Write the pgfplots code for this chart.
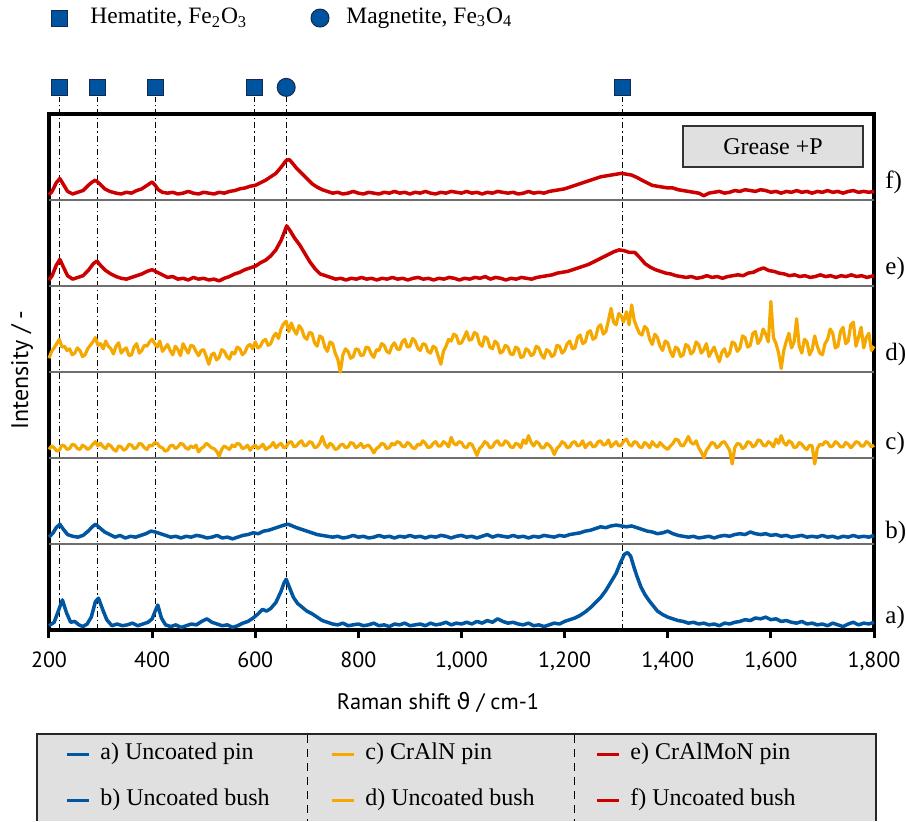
\documentclass[border=0pt]{standalone}
\usepackage{fontspec}
\setmainfont{Liberation Serif}
\setsansfont{PT Sans}
\newfontfamily\dejavu{DejaVu Sans}
\usepackage{pgfplots}
\pgfplotsset{compat=1.18}
\usepackage{pgfplotstable}

\definecolor{cblue}{RGB}{0,86,160}
\definecolor{corange}{RGB}{244,168,0}
\definecolor{cred}{RGB}{204,0,0}
\definecolor{mblue}{RGB}{0,84,159}
\definecolor{medge}{RGB}{20,40,80}
\definecolor{boxgray}{RGB}{224,224,224}
\definecolor{sepgray}{RGB}{110,110,110}

% spectra, intensity relative to the bottom of each strip
\pgfplotstableread[row sep=\\]{x y\\
200 0.05\\210 0.09\\218 0.22\\226 0.35\\234 0.20\\242 0.09\\250 0.10\\258 0.06\\266 0.04\\274 0.07\\
282 0.15\\290 0.33\\296 0.37\\304 0.24\\312 0.12\\322 0.05\\332 0.07\\342 0.05\\352 0.06\\362 0.08\\
372 0.05\\382 0.07\\392 0.09\\400 0.13\\406 0.22\\411 0.29\\418 0.14\\426 0.06\\436 0.04\\446 0.06\\
456 0.03\\466 0.05\\476 0.07\\486 0.06\\496 0.10\\506 0.13\\516 0.09\\526 0.07\\536 0.05\\546 0.06\\
556 0.03\\566 0.05\\576 0.08\\586 0.10\\596 0.14\\606 0.19\\614 0.24\\622 0.22\\630 0.25\\640 0.32\\
650 0.45\\656 0.55\\660 0.59\\666 0.50\\674 0.38\\682 0.31\\690 0.27\\700 0.22\\710 0.19\\720 0.15\\
730 0.11\\740 0.09\\750 0.07\\760 0.06\\770 0.08\\780 0.05\\790 0.06\\800 0.07\\810 0.05\\820 0.06\\
830 0.08\\840 0.05\\850 0.06\\860 0.04\\870 0.07\\880 0.06\\890 0.08\\900 0.05\\910 0.06\\920 0.07\\
930 0.05\\940 0.08\\950 0.06\\960 0.07\\970 0.09\\980 0.06\\990 0.08\\1000 0.07\\1010 0.09\\1020 0.07\\
1030 0.10\\1040 0.08\\1050 0.11\\1060 0.09\\1070 0.13\\1080 0.10\\1090 0.08\\1100 0.09\\1110 0.07\\1120 0.06\\
1130 0.08\\1140 0.05\\1150 0.06\\1160 0.04\\1170 0.06\\1180 0.08\\1190 0.07\\1200 0.10\\1210 0.12\\1220 0.14\\
1230 0.17\\1240 0.21\\1250 0.26\\1260 0.32\\1270 0.38\\1280 0.46\\1290 0.56\\1300 0.66\\1308 0.78\\1316 0.88\\
1322 0.90\\1328 0.86\\1334 0.74\\1340 0.63\\1348 0.50\\1356 0.41\\1364 0.34\\1372 0.28\\1380 0.22\\1390 0.18\\
1400 0.15\\1410 0.13\\1420 0.11\\1430 0.10\\1440 0.08\\1450 0.09\\1460 0.07\\1470 0.08\\1480 0.06\\1490 0.07\\
1500 0.05\\1510 0.08\\1520 0.07\\1530 0.09\\1540 0.10\\1550 0.12\\1560 0.11\\1570 0.14\\1580 0.13\\1590 0.15\\
1600 0.12\\1610 0.13\\1620 0.10\\1630 0.11\\1640 0.09\\1650 0.08\\1660 0.10\\1670 0.07\\1680 0.08\\1690 0.06\\
1700 0.07\\1710 0.05\\1720 0.08\\1730 0.06\\1740 0.04\\1750 0.07\\1760 0.09\\1770 0.06\\1780 0.08\\1790 0.07\\
1800 0.09\\
}\tablea

\pgfplotstableread[row sep=\\]{x y\\
200 0.08\\208 0.13\\214 0.19\\221 0.23\\228 0.17\\236 0.11\\246 0.09\\256 0.08\\266 0.10\\276 0.15\\
284 0.20\\290 0.23\\298 0.19\\308 0.14\\318 0.11\\328 0.08\\338 0.10\\348 0.07\\358 0.09\\368 0.08\\
378 0.10\\388 0.12\\398 0.15\\406 0.14\\416 0.12\\426 0.10\\436 0.08\\446 0.09\\456 0.07\\466 0.09\\
476 0.08\\486 0.10\\496 0.09\\506 0.07\\516 0.08\\526 0.10\\536 0.07\\546 0.08\\556 0.06\\566 0.08\\
576 0.10\\586 0.11\\596 0.13\\606 0.12\\616 0.15\\626 0.16\\636 0.18\\646 0.20\\656 0.22\\664 0.23\\
672 0.21\\680 0.19\\690 0.17\\700 0.15\\710 0.13\\720 0.11\\730 0.10\\740 0.09\\750 0.08\\760 0.09\\
770 0.07\\780 0.08\\790 0.10\\800 0.08\\810 0.09\\820 0.07\\830 0.08\\840 0.10\\850 0.08\\860 0.09\\
870 0.07\\880 0.09\\890 0.08\\900 0.10\\910 0.08\\920 0.09\\930 0.07\\940 0.09\\950 0.08\\960 0.10\\
970 0.09\\980 0.07\\990 0.09\\1000 0.10\\1010 0.08\\1020 0.09\\1030 0.07\\1040 0.09\\1050 0.11\\1060 0.08\\
1070 0.10\\1080 0.09\\1090 0.08\\1100 0.10\\1110 0.08\\1120 0.09\\1130 0.07\\1140 0.09\\1150 0.08\\1160 0.10\\
1170 0.09\\1180 0.08\\1190 0.10\\1200 0.09\\1210 0.11\\1220 0.12\\1230 0.13\\1240 0.15\\1250 0.16\\1260 0.18\\
1270 0.20\\1280 0.19\\1290 0.21\\1300 0.22\\1310 0.21\\1320 0.20\\1330 0.21\\1340 0.19\\1350 0.17\\1360 0.15\\
1370 0.14\\1380 0.12\\1390 0.13\\1400 0.15\\1410 0.12\\1420 0.10\\1430 0.09\\1440 0.08\\1450 0.09\\1460 0.07\\
1470 0.08\\1480 0.09\\1490 0.07\\1500 0.09\\1510 0.10\\1520 0.09\\1530 0.11\\1540 0.12\\1550 0.11\\1560 0.14\\
1570 0.12\\1580 0.11\\1590 0.12\\1600 0.10\\1610 0.11\\1620 0.09\\1630 0.10\\1640 0.08\\1650 0.09\\1660 0.10\\
1670 0.08\\1680 0.09\\1690 0.08\\1700 0.10\\1710 0.08\\1720 0.09\\1730 0.07\\1740 0.09\\1750 0.08\\1760 0.10\\
1770 0.08\\1780 0.09\\1790 0.08\\1800 0.10\\
}\tableb

\pgfplotstableread[row sep=\\]{x y\\
200 0.10\\205 0.14\\210 0.12\\215 0.08\\220 0.09\\225 0.15\\230 0.14\\235 0.10\\240 0.11\\245 0.16\\
250 0.15\\255 0.11\\260 0.10\\265 0.15\\270 0.13\\275 0.10\\280 0.12\\285 0.16\\290 0.19\\295 0.14\\
300 0.17\\305 0.13\\310 0.11\\315 0.16\\320 0.14\\325 0.10\\330 0.08\\335 0.14\\340 0.13\\345 0.09\\
350 0.11\\355 0.16\\360 0.15\\365 0.11\\370 0.12\\375 0.17\\380 0.16\\385 0.12\\390 0.10\\395 0.15\\
400 0.14\\405 0.18\\410 0.17\\415 0.13\\420 0.12\\425 0.08\\430 0.09\\435 0.14\\440 0.15\\445 0.11\\
450 0.13\\455 0.17\\460 0.16\\465 0.12\\470 0.10\\475 0.14\\480 0.12\\485 0.15\\490 0.07\\495 0.11\\
500 0.13\\505 0.17\\510 0.15\\515 0.12\\520 0.11\\525 0.08\\530 0.02\\535 0.10\\540 0.14\\545 0.12\\
550 0.10\\555 0.15\\560 0.13\\565 0.17\\570 0.16\\575 0.11\\580 0.12\\585 0.15\\590 0.09\\595 0.13\\
600 0.15\\605 0.11\\610 0.13\\615 0.16\\620 0.10\\625 0.12\\630 0.14\\635 0.18\\640 0.12\\645 0.15\\
650 0.17\\655 0.12\\660 0.13\\665 0.18\\670 0.19\\675 0.13\\680 0.14\\685 0.18\\690 0.20\\695 0.14\\
700 0.15\\705 0.19\\710 0.18\\715 0.12\\720 0.13\\725 0.17\\730 0.25\\735 0.16\\740 0.12\\745 0.17\\
750 0.15\\755 0.10\\760 0.11\\765 0.15\\770 0.16\\775 0.12\\780 0.13\\785 0.18\\790 0.17\\795 0.12\\
800 0.14\\805 0.17\\810 0.12\\815 0.14\\820 0.15\\825 0.11\\830 0.06\\835 0.11\\840 0.13\\845 0.17\\
850 0.16\\855 0.11\\860 0.12\\865 0.17\\870 0.15\\875 0.19\\880 0.18\\885 0.14\\890 0.13\\895 0.18\\
900 0.16\\905 0.12\\910 0.11\\915 0.16\\920 0.15\\925 0.20\\930 0.17\\935 0.12\\940 0.13\\945 0.17\\
950 0.19\\955 0.14\\960 0.14\\965 0.19\\970 0.17\\975 0.13\\980 0.24\\985 0.17\\990 0.15\\995 0.19\\
1000 0.18\\1005 0.13\\1010 0.12\\1015 0.17\\1020 0.16\\1025 0.10\\1030 0.03\\1035 0.11\\1040 0.14\\1045 0.19\\
1050 0.17\\1055 0.12\\1060 0.13\\1065 0.18\\1070 0.20\\1075 0.15\\1080 0.15\\1085 0.20\\1090 0.18\\1095 0.13\\
1100 0.12\\1105 0.17\\1110 0.16\\1115 0.12\\1120 0.21\\1125 0.17\\1130 0.26\\1135 0.18\\1140 0.14\\1145 0.19\\
1150 0.17\\1155 0.12\\1160 0.12\\1165 0.17\\1170 0.15\\1175 0.11\\1180 0.04\\1185 0.11\\1190 0.14\\1195 0.19\\
1200 0.17\\1205 0.12\\1210 0.13\\1215 0.18\\1220 0.19\\1225 0.14\\1230 0.15\\1235 0.20\\1240 0.12\\1245 0.16\\
1250 0.18\\1255 0.13\\1260 0.14\\1265 0.19\\1270 0.20\\1275 0.15\\1280 0.16\\1285 0.21\\1290 0.13\\1295 0.16\\
1300 0.19\\1305 0.14\\1310 0.15\\1315 0.20\\1320 0.22\\1325 0.16\\1330 0.14\\1335 0.19\\1340 0.18\\1345 0.13\\
1350 0.12\\1355 0.18\\1360 0.16\\1365 0.12\\1370 0.19\\1375 0.15\\1380 0.13\\1385 0.18\\1390 0.15\\1395 0.12\\
1400 0.10\\1405 0.14\\1410 0.17\\1415 0.22\\1420 0.21\\1425 0.15\\1430 0.14\\1435 0.19\\1440 0.25\\1445 0.18\\
1450 0.16\\1455 0.20\\1460 0.12\\1465 0.07\\1470 0.00\\1475 0.09\\1480 0.13\\1485 0.18\\1490 0.17\\1495 0.12\\
1500 0.14\\1505 0.18\\1510 0.19\\1515 0.14\\1520 0.09\\1525 -0.07\\1530 0.12\\1535 0.17\\1540 0.16\\1545 0.11\\
1550 0.13\\1555 0.19\\1560 0.18\\1565 0.13\\1570 0.15\\1575 0.21\\1580 0.20\\1585 0.15\\1590 0.14\\1595 0.19\\
1600 0.17\\1605 0.13\\1610 0.22\\1615 0.17\\1620 0.26\\1625 0.18\\1630 0.15\\1635 0.20\\1640 0.18\\1645 0.12\\
1650 0.13\\1655 0.18\\1660 0.16\\1665 0.12\\1670 0.10\\1675 0.15\\1680 0.14\\1685 -0.07\\1690 0.11\\1695 0.16\\
1700 0.15\\1705 0.19\\1710 0.18\\1715 0.13\\1720 0.14\\1725 0.19\\1730 0.17\\1735 0.13\\1740 0.13\\1745 0.18\\
1750 0.16\\1755 0.12\\1760 0.15\\1765 0.19\\1770 0.18\\1775 0.14\\1780 0.14\\1785 0.19\\1790 0.17\\1795 0.13\\
1800 0.15\\
}\tablec

\pgfplotstableread[row sep=\\]{x y\\
200 0.16\\205 0.24\\210 0.28\\215 0.33\\220 0.38\\225 0.29\\230 0.30\\235 0.25\\240 0.27\\245 0.20\\
250 0.22\\255 0.28\\260 0.25\\265 0.18\\270 0.20\\275 0.27\\280 0.31\\285 0.35\\290 0.40\\295 0.31\\
300 0.33\\305 0.27\\310 0.36\\315 0.30\\320 0.27\\325 0.21\\330 0.30\\335 0.34\\340 0.22\\345 0.26\\
350 0.28\\355 0.19\\360 0.20\\365 0.29\\370 0.33\\375 0.22\\380 0.25\\385 0.31\\390 0.30\\395 0.35\\
400 0.38\\405 0.33\\410 0.29\\415 0.36\\420 0.24\\425 0.28\\430 0.32\\435 0.25\\440 0.20\\445 0.30\\
450 0.26\\455 0.19\\460 0.33\\465 0.27\\470 0.22\\475 0.31\\480 0.30\\485 0.24\\490 0.19\\495 0.25\\
500 0.26\\505 0.18\\510 0.09\\515 0.20\\520 0.22\\525 0.14\\530 0.17\\535 0.26\\540 0.24\\545 0.18\\
550 0.15\\555 0.23\\560 0.21\\565 0.29\\570 0.27\\575 0.20\\580 0.23\\585 0.30\\590 0.32\\595 0.27\\
600 0.35\\605 0.28\\610 0.30\\615 0.36\\620 0.38\\625 0.31\\630 0.33\\635 0.41\\640 0.45\\645 0.39\\
650 0.50\\655 0.56\\660 0.59\\665 0.47\\670 0.57\\675 0.49\\680 0.44\\685 0.54\\690 0.50\\695 0.41\\
700 0.38\\705 0.46\\710 0.45\\715 0.34\\720 0.30\\725 0.42\\730 0.40\\735 0.29\\740 0.24\\745 0.35\\
750 0.33\\755 0.22\\760 0.15\\765 0.00\\770 0.20\\775 0.27\\780 0.24\\785 0.16\\790 0.18\\795 0.27\\
800 0.26\\805 0.19\\810 0.20\\815 0.29\\820 0.28\\825 0.21\\830 0.17\\835 0.26\\840 0.25\\845 0.33\\
850 0.31\\855 0.24\\860 0.22\\865 0.30\\870 0.34\\875 0.27\\880 0.26\\885 0.35\\890 0.38\\895 0.29\\
900 0.30\\905 0.39\\910 0.36\\915 0.28\\920 0.25\\925 0.33\\930 0.32\\935 0.24\\940 0.22\\945 0.30\\
950 0.28\\955 0.18\\960 0.09\\965 0.24\\970 0.30\\975 0.38\\980 0.36\\985 0.44\\990 0.42\\995 0.33\\
1000 0.34\\1005 0.40\\1010 0.47\\1015 0.37\\1020 0.38\\1025 0.46\\1030 0.44\\1035 0.33\\1040 0.30\\1045 0.41\\
1050 0.39\\1055 0.29\\1060 0.27\\1065 0.36\\1070 0.33\\1075 0.22\\1080 0.24\\1085 0.31\\1090 0.29\\1095 0.21\\
1100 0.20\\1105 0.29\\1110 0.27\\1115 0.17\\1120 0.18\\1125 0.27\\1130 0.25\\1135 0.19\\1140 0.21\\1145 0.30\\
1150 0.28\\1155 0.20\\1160 0.16\\1165 0.26\\1170 0.24\\1175 0.18\\1180 0.20\\1185 0.31\\1190 0.30\\1195 0.22\\
1200 0.25\\1205 0.33\\1210 0.36\\1215 0.27\\1220 0.28\\1225 0.40\\1230 0.43\\1235 0.33\\1240 0.35\\1245 0.46\\
1250 0.48\\1255 0.38\\1260 0.40\\1265 0.52\\1270 0.55\\1275 0.44\\1280 0.47\\1285 0.60\\1290 0.74\\1295 0.58\\
1300 0.55\\1305 0.68\\1310 0.65\\1314 0.58\\1320 0.70\\1325 0.55\\1330 0.78\\1335 0.60\\1340 0.52\\1345 0.45\\
1350 0.43\\1355 0.53\\1360 0.50\\1365 0.38\\1370 0.32\\1375 0.44\\1380 0.40\\1385 0.30\\1390 0.25\\1395 0.36\\
1400 0.34\\1405 0.24\\1410 0.18\\1415 0.29\\1420 0.27\\1425 0.18\\1430 0.20\\1435 0.32\\1440 0.30\\1445 0.21\\
1450 0.24\\1455 0.35\\1460 0.32\\1465 0.22\\1470 0.26\\1475 0.33\\1480 0.18\\1485 0.24\\1490 0.29\\1495 0.20\\
1500 0.12\\1505 0.23\\1510 0.27\\1515 0.18\\1520 0.22\\1525 0.35\\1530 0.33\\1535 0.24\\1540 0.28\\1545 0.42\\
1550 0.40\\1555 0.29\\1560 0.31\\1565 0.45\\1570 0.47\\1575 0.33\\1580 0.38\\1585 0.50\\1590 0.44\\1595 0.35\\
1600 0.82\\1605 0.40\\1610 0.33\\1615 0.22\\1620 0.04\\1625 0.25\\1630 0.36\\1635 0.45\\1640 0.28\\1645 0.35\\
1650 0.62\\1655 0.30\\1660 0.22\\1665 0.38\\1670 0.35\\1675 0.20\\1680 0.26\\1685 0.42\\1690 0.30\\1695 0.22\\
1700 0.20\\1705 0.33\\1710 0.38\\1715 0.50\\1720 0.45\\1725 0.28\\1730 0.30\\1735 0.47\\1740 0.52\\1745 0.33\\
1750 0.36\\1755 0.55\\1760 0.58\\1765 0.30\\1770 0.40\\1775 0.52\\1780 0.28\\1785 0.40\\1790 0.45\\1795 0.25\\
1800 0.30\\
}\tabled

\pgfplotstableread[row sep=\\]{x y\\
200 0.07\\206 0.12\\214 0.24\\221 0.31\\228 0.22\\236 0.12\\246 0.08\\256 0.10\\266 0.12\\276 0.18\\
286 0.26\\293 0.29\\300 0.24\\310 0.18\\320 0.14\\330 0.11\\340 0.09\\350 0.08\\360 0.10\\370 0.12\\
380 0.14\\390 0.17\\400 0.19\\410 0.16\\420 0.13\\430 0.10\\440 0.11\\450 0.08\\460 0.09\\470 0.07\\
480 0.10\\490 0.08\\500 0.09\\510 0.07\\520 0.08\\530 0.06\\540 0.09\\550 0.11\\560 0.14\\570 0.16\\
580 0.19\\590 0.21\\600 0.23\\610 0.27\\620 0.30\\630 0.35\\640 0.42\\650 0.53\\656 0.62\\661 0.70\\
668 0.64\\676 0.56\\686 0.48\\696 0.38\\706 0.28\\716 0.20\\726 0.14\\736 0.12\\746 0.10\\756 0.08\\
766 0.09\\776 0.07\\786 0.09\\796 0.08\\806 0.10\\816 0.08\\826 0.09\\836 0.07\\846 0.09\\856 0.08\\
866 0.10\\876 0.08\\886 0.09\\896 0.07\\906 0.09\\916 0.10\\926 0.08\\936 0.09\\946 0.07\\956 0.09\\
966 0.08\\976 0.10\\986 0.09\\996 0.07\\1006 0.09\\1016 0.08\\1026 0.10\\1036 0.09\\1046 0.11\\1056 0.08\\
1066 0.10\\1076 0.09\\1086 0.07\\1096 0.09\\1106 0.08\\1116 0.10\\1126 0.09\\1136 0.08\\1146 0.10\\1156 0.11\\
1166 0.12\\1176 0.13\\1186 0.15\\1196 0.16\\1206 0.17\\1216 0.19\\1226 0.21\\1236 0.23\\1246 0.25\\1256 0.28\\
1266 0.31\\1276 0.34\\1286 0.37\\1296 0.40\\1306 0.42\\1316 0.41\\1326 0.39\\1336 0.39\\1346 0.33\\1356 0.26\\
1366 0.22\\1376 0.19\\1386 0.17\\1396 0.15\\1406 0.14\\1416 0.12\\1426 0.11\\1436 0.10\\1446 0.11\\1456 0.09\\
1466 0.10\\1476 0.12\\1486 0.10\\1496 0.11\\1506 0.09\\1516 0.11\\1526 0.12\\1536 0.13\\1546 0.12\\1556 0.15\\
1566 0.16\\1576 0.19\\1586 0.21\\1596 0.18\\1606 0.17\\1616 0.15\\1626 0.14\\1636 0.12\\1646 0.13\\1656 0.11\\
1666 0.12\\1676 0.10\\1686 0.11\\1696 0.13\\1706 0.11\\1716 0.12\\1726 0.10\\1736 0.12\\1746 0.11\\1756 0.13\\
1766 0.11\\1776 0.12\\1786 0.10\\1800 0.12\\
}\tablee

\pgfplotstableread[row sep=\\]{x y\\
200 0.06\\206 0.10\\214 0.20\\221 0.25\\228 0.18\\236 0.10\\246 0.07\\256 0.09\\266 0.11\\276 0.17\\
284 0.21\\290 0.23\\298 0.19\\308 0.13\\318 0.10\\330 0.08\\340 0.07\\350 0.09\\360 0.08\\370 0.11\\
380 0.13\\390 0.17\\400 0.21\\406 0.17\\412 0.12\\420 0.09\\430 0.08\\440 0.09\\450 0.07\\460 0.08\\
470 0.10\\480 0.08\\490 0.07\\500 0.09\\510 0.08\\520 0.07\\530 0.09\\540 0.08\\550 0.10\\560 0.11\\
570 0.13\\580 0.14\\590 0.16\\600 0.17\\610 0.20\\620 0.23\\630 0.27\\640 0.31\\650 0.38\\660 0.46\\
666 0.47\\672 0.43\\680 0.37\\690 0.31\\700 0.25\\710 0.19\\720 0.15\\730 0.12\\740 0.10\\750 0.08\\
760 0.09\\770 0.07\\780 0.08\\790 0.10\\800 0.08\\810 0.07\\820 0.09\\830 0.08\\840 0.07\\850 0.09\\
860 0.08\\870 0.10\\880 0.08\\890 0.09\\900 0.07\\910 0.09\\920 0.08\\930 0.10\\940 0.08\\950 0.07\\
960 0.09\\970 0.08\\980 0.10\\990 0.09\\1000 0.08\\1010 0.10\\1020 0.08\\1030 0.09\\1040 0.07\\1050 0.09\\
1060 0.08\\1070 0.10\\1080 0.09\\1090 0.08\\1100 0.09\\1110 0.07\\1120 0.08\\1130 0.10\\1140 0.08\\1150 0.09\\
1160 0.08\\1170 0.10\\1180 0.11\\1190 0.12\\1200 0.13\\1210 0.15\\1220 0.17\\1230 0.19\\1240 0.21\\1250 0.23\\
1260 0.25\\1270 0.27\\1280 0.28\\1290 0.29\\1300 0.30\\1310 0.31\\1320 0.30\\1330 0.29\\1341 0.26\\1350 0.23\\
1360 0.20\\1370 0.17\\1380 0.16\\1390 0.15\\1400 0.14\\1410 0.14\\1420 0.12\\1430 0.11\\1440 0.10\\1450 0.09\\
1460 0.08\\1470 0.05\\1480 0.08\\1490 0.09\\1500 0.10\\1510 0.08\\1520 0.09\\1530 0.11\\1540 0.10\\1550 0.12\\
1560 0.11\\1570 0.10\\1580 0.12\\1590 0.11\\1600 0.09\\1610 0.10\\1620 0.08\\1630 0.10\\1640 0.09\\1650 0.11\\
1660 0.09\\1670 0.10\\1680 0.08\\1690 0.10\\1700 0.09\\1710 0.11\\1720 0.09\\1730 0.10\\1740 0.08\\1750 0.10\\
1760 0.11\\1770 0.09\\1780 0.10\\1790 0.09\\1800 0.10\\
}\tablef

\newcommand{\lbl}{\fontsize{12}{14}\selectfont}

\begin{document}
\begin{tikzpicture}
\path[use as bounding box] (0,0) rectangle (453pt,-410.5pt);

% top legend
\node[anchor=west, inner sep=0pt, font=\fontsize{11.75}{14}\selectfont] at (45pt,-9pt) {Hematite, Fe\textsubscript{2}O\textsubscript{3}};
\node[anchor=west, inner sep=0pt, font=\fontsize{11.75}{14}\selectfont] at (173pt,-9pt) {Magnetite, Fe\textsubscript{3}O\textsubscript{4}};

\begin{axis}[
    at={(24.5pt,-315pt)}, anchor=south west,
    width=412.5pt, height=258pt, scale only axis,
    xmin=200, xmax=1800, ymin=0, ymax=6,
    xtick={200,400,...,1800}, ytick=\empty,
    xtick pos=left, tick align=outside, major tick length=4pt,
    tick style={black, line width=1.5pt},
    axis line style={line width=1.8pt},
    xticklabel style={font=\sffamily\fontsize{11}{13}\selectfont, yshift=-3.5pt},
    /pgf/number format/assume math mode=true,
    /pgf/number format/1000 sep={,},
    clip=false,
]
% reference lines of the oxide bands
\foreach \p in {221,294,406,598,660,1313}{
  \edef\tmp{\noexpand\addplot[black, line width=0.5pt, dash pattern=on 3pt off 1.5pt on 0.6pt off 1.5pt, forget plot] coordinates {(\p,0) (\p,6.2)};}
  \tmp
}
% strip separators
\foreach \k in {1,2,3,4,5}{
  \edef\tmp{\noexpand\addplot[sepgray, line width=0.6pt, forget plot] coordinates {(200,\k) (1800,\k)};}
  \tmp
}

\addplot[cblue, line width=1.75pt, line join=round] table[x=x, y=y] {\tablea};
\addplot[cblue, line width=1.75pt, line join=round] table[x=x, y expr=\thisrow{y}+1] {\tableb};
\addplot[corange, line width=1.6pt, line join=round] table[x=x, y expr=\thisrow{y}+2] {\tablec};
\addplot[corange, line width=1.6pt, line join=round] table[x=x, y expr=\thisrow{y}+3] {\tabled};
\addplot[cred, line width=1.75pt, line join=round] table[x=x, y expr=\thisrow{y}+4] {\tablee};
\addplot[cred, line width=1.75pt, line join=round] table[x=x, y expr=\thisrow{y}+5] {\tablef};

% band markers
\addplot[only marks, mark=square*, mark size=4pt, mark options={fill=mblue, draw=medge, line width=0.5pt}]
  coordinates {(221,6.31) (294,6.31) (406,6.31) (598,6.31) (1313,6.31) (221.3,7.116)};
\addplot[only marks, mark=*, mark size=4.5pt, mark options={fill=mblue, draw=medge, line width=0.5pt}]
  coordinates {(660,6.31) (725.6,7.116)};

% strip labels
\foreach \yy/\t in {0.14/a),1.13/b),2.17/c),3.2/d),4.2/e),5.2/f)}{
  \edef\tmp{\noexpand\node[anchor=west, inner sep=0pt, xshift=5.5pt, font=\noexpand\fontsize{12.5}{14}\noexpand\selectfont] at (axis cs:1800,\yy) {\t};}
  \tmp
}
\end{axis}

\node[rotate=90, font=\sffamily\fontsize{12}{14}\selectfont] at (11pt,-185pt) {Intensity / -};
\node[font=\sffamily\fontsize{11.2}{13}\selectfont] at (219pt,-351pt) {Raman shift {\dejavu ϑ} / cm-1};

\node[draw=black!80, line width=1pt, fill=boxgray, minimum width=90pt, minimum height=20.5pt, inner sep=0pt, font=\fontsize{12}{14}\selectfont] at (386.5pt,-73.25pt) {Grease +P};

% bottom legend
\fill[boxgray] (18.5pt,-367pt) rectangle (438pt,-410.5pt);
\draw[black!85, line width=1pt] (18.5pt,-410.5pt) -- (18.5pt,-367pt) -- (438pt,-367pt) -- (438pt,-410.5pt);
\draw[black, line width=0.6pt, dash pattern=on 4pt off 3pt] (153.8pt,-367.5pt) -- (153.8pt,-410.5pt);
\draw[black, line width=0.6pt, dash pattern=on 4pt off 3pt] (287.4pt,-367.5pt) -- (287.4pt,-410.5pt);
\foreach \xx/\c/\ta/\tb in {33.5/cblue/a) Uncoated pin/b) Uncoated bush,166/corange/c) CrAlN pin/d) Uncoated bush,298.5/cred/e) CrAlMoN pin/f) Uncoated bush}{
  \draw[\c, line width=1.5pt] (\xx pt,-377pt) -- ++(11pt,0);
  \draw[\c, line width=1.5pt] (\xx pt,-400pt) -- ++(11pt,0);
  \node[anchor=west, inner sep=0pt, font=\lbl] at (\xx pt+16.5pt,-377pt) {\ta};
  \node[anchor=west, inner sep=0pt, font=\lbl] at (\xx pt+16.5pt,-400pt) {\tb};
}
\end{tikzpicture}
\end{document}
